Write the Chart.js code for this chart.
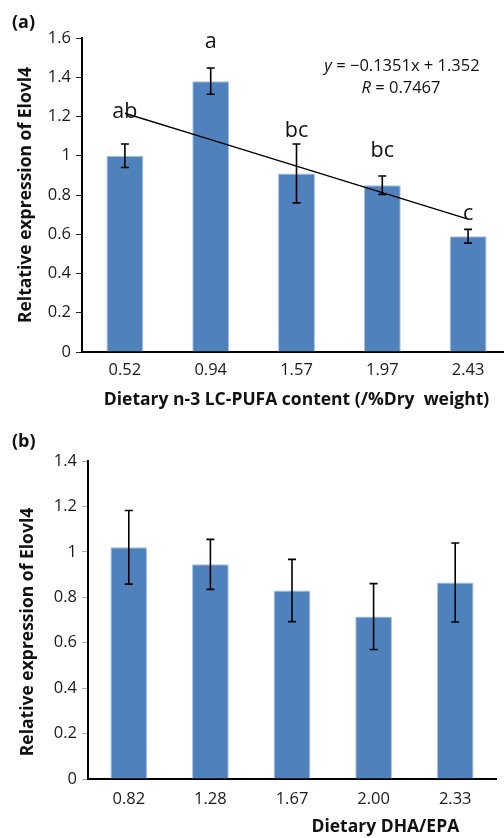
<!DOCTYPE html>
<html>
<head>
<meta charset="utf-8">
<script src="https://cdn.jsdelivr.net/npm/chart.js@4"></script>
<style>
  html, body { margin: 0; padding: 0; background: #fff; overflow: hidden; }
  #boxA { position: absolute; left: 0; top: 0; width: 512px; height: 420px; }
  #boxB { position: absolute; left: 0; top: 420px; width: 504px; height: 418px; }
</style>
</head>
<body>
<div id="boxA"><canvas id="chartA"></canvas></div>
<div id="boxB"><canvas id="chartB"></canvas></div>
<script>
// panel (a): dietary n-3 LC-PUFA content
const pufaLabels = ['0.52', '0.94', '1.57', '1.97', '2.43'];
const pufaValues = [1.00, 1.38, 0.91, 0.85, 0.59];
const pufaErrors = [0.06, 0.067, 0.15, 0.047, 0.035];
const pufaLetters = ['ab', 'a', 'bc', 'bc', 'c'];
const pufaTrend = [1.217, 1.082, 0.947, 0.812, 0.677];   // y = -0.1351x + 1.352

// panel (b): dietary DHA/EPA
const ratioLabels = ['0.82', '1.28', '1.67', '2.00', '2.33'];
const ratioValues = [1.02, 0.945, 0.83, 0.715, 0.865];
const ratioErrors = [0.162, 0.11, 0.137, 0.145, 0.174];

const FONT = "'Open Sans', sans-serif";
Chart.defaults.font.family = FONT;
Chart.defaults.color = '#1a1a1a';

const barFill = '#4F81BD';
const barEdge = '#A9C0DD';

function errorBars(errors) {
  return {
    id: 'errorBars',
    afterDatasetsDraw(chart) {
      const meta = chart.getDatasetMeta(0);
      const vals = chart.data.datasets[0].data;
      const y = chart.scales.y;
      const ctx = chart.ctx;
      ctx.save();
      ctx.strokeStyle = '#000';
      ctx.lineWidth = 1.6;
      meta.data.forEach((bar, i) => {
        const top = y.getPixelForValue(vals[i] + errors[i]);
        const bot = y.getPixelForValue(vals[i] - errors[i]);
        ctx.beginPath();
        ctx.moveTo(bar.x, top); ctx.lineTo(bar.x, bot);
        ctx.moveTo(bar.x - 4, top); ctx.lineTo(bar.x + 4, top);
        ctx.moveTo(bar.x - 4, bot); ctx.lineTo(bar.x + 4, bot);
        ctx.stroke();
      });
      ctx.restore();
    }
  };
}

// draws a run of text pieces (some italic) centred on x
function drawPieces(ctx, pieces, cx, y, size) {
  let w = 0;
  pieces.forEach(p => {
    ctx.font = (p.italic ? 'italic ' : '') + size + 'px ' + FONT;
    p.w = ctx.measureText(p.t).width;
    w += p.w;
  });
  let x = cx - w / 2;
  ctx.textAlign = 'left';
  pieces.forEach(p => {
    ctx.font = (p.italic ? 'italic ' : '') + size + 'px ' + FONT;
    ctx.fillText(p.t, x, y);
    x += p.w;
  });
}

// letter heights (data units of the baseline) as placed in the figure
const letterLevels = [1.192, 1.548, 1.098, 0.996, 0.673];

const notesA = {
  id: 'notesA',
  afterDraw(chart) {
    const ctx = chart.ctx;
    const meta = chart.getDatasetMeta(0);
    const y = chart.scales.y;
    ctx.save();
    ctx.fillStyle = '#111';
    ctx.textBaseline = 'alphabetic';
    ctx.font = 'bold 18px ' + FONT;
    ctx.textAlign = 'left';
    ctx.fillText('(a)', 12, 28);
    ctx.font = '21.5px ' + FONT;
    ctx.textAlign = 'center';
    pufaLetters.forEach((l, i) => {
      ctx.fillText(l, meta.data[i].x, y.getPixelForValue(letterLevels[i]));
    });
    drawPieces(ctx, [{t: 'y', italic: true}, {t: ' = \u22120.1351x + 1.352'}], 402, 71, 16.5);
    drawPieces(ctx, [{t: 'R', italic: true}, {t: ' = 0.7467'}], 401, 93, 16.5);
    ctx.restore();
  }
};

const notesB = {
  id: 'notesB',
  afterDraw(chart) {
    const ctx = chart.ctx;
    const x = chart.scales.x;
    ctx.save();
    ctx.fillStyle = '#111';
    ctx.font = 'bold 18px ' + FONT;
    ctx.textAlign = 'left';
    ctx.textBaseline = 'alphabetic';
    ctx.fillText('(b)', 12, 27);
    ctx.font = 'bold 17.5px ' + FONT;
    ctx.textAlign = 'right';
    ctx.textBaseline = 'middle';
    ctx.fillText('Dietary DHA/EPA', x.getPixelForValue(4) + 4, 407);
    ctx.translate(28, 212);
    ctx.rotate(-Math.PI / 2);
    ctx.textAlign = 'center';
    ctx.fillText('Relative expression of Elovl4', 0, 0);
    ctx.restore();
  }
};

function yAxis(max, width, title, tickColor) {
  return {
    min: 0, max: max,
    afterFit: s => { s.width = width; },
    ticks: {
      stepSize: 0.2, padding: 5,
      font: { size: 16.5 }, color: '#1a1a1a',
      callback: v => +v.toFixed(1)
    },
    grid: { drawOnChartArea: false, drawTicks: true, tickLength: 6, tickColor: tickColor, tickWidth: 1 },
    border: { display: true, color: '#000', width: 2 },
    title: title
  };
}

function xAxis(height, pad, title) {
  return {
    afterFit: s => { s.height = height; },
    ticks: { padding: pad, font: { size: 16.5 }, color: '#1a1a1a' },
    grid: { drawOnChartArea: false, drawTicks: false },
    border: { display: true, color: '#000', width: 2 },
    title: title
  };
}

new Chart(document.getElementById('chartA'), {
  type: 'bar',
  data: {
    labels: pufaLabels,
    datasets: [
      {
        type: 'bar', data: pufaValues, order: 1,
        backgroundColor: barFill, borderColor: barEdge, borderWidth: 1,
        barPercentage: 0.43, categoryPercentage: 1
      },
      {
        type: 'line', data: pufaTrend, order: 0,
        borderColor: '#000', borderWidth: 1.5, pointRadius: 0, fill: false, tension: 0
      }
    ]
  },
  options: {
    responsive: true, maintainAspectRatio: false, animation: false,
    layout: { padding: { top: 38, right: 1, bottom: 0, left: 0 } },
    plugins: { legend: { display: false }, tooltip: { enabled: false } },
    scales: {
      x: xAxis(68, 8, {
        display: true, text: 'Dietary n-3 LC-PUFA content (/%Dry  weight)',
        font: { size: 17.5, weight: 'bold' }, color: '#111', padding: { top: 0, bottom: 9 }
      }),
      y: yAxis(1.6, 82, {
        display: true, text: 'Reltative expression of Elovl4',
        font: { size: 17.5, weight: 'bold' }, color: '#111', padding: { top: 16, bottom: 0 }
      }, '#222')
    }
  },
  plugins: [errorBars(pufaErrors), notesA]
});

new Chart(document.getElementById('chartB'), {
  type: 'bar',
  data: {
    labels: ratioLabels,
    datasets: [{
      data: ratioValues,
      backgroundColor: barFill, borderColor: barEdge, borderWidth: 1,
      barPercentage: 0.45, categoryPercentage: 1
    }]
  },
  options: {
    responsive: true, maintainAspectRatio: false, animation: false,
    layout: { padding: { top: 41, right: 8, bottom: 0, left: 0 } },
    plugins: { legend: { display: false }, tooltip: { enabled: false } },
    scales: {
      x: xAxis(59, 10, { display: false }),
      y: yAxis(1.4, 88, { display: false }, '#aaa')
    }
  },
  plugins: [errorBars(ratioErrors), notesB]
});
</script>
</body>
</html>
